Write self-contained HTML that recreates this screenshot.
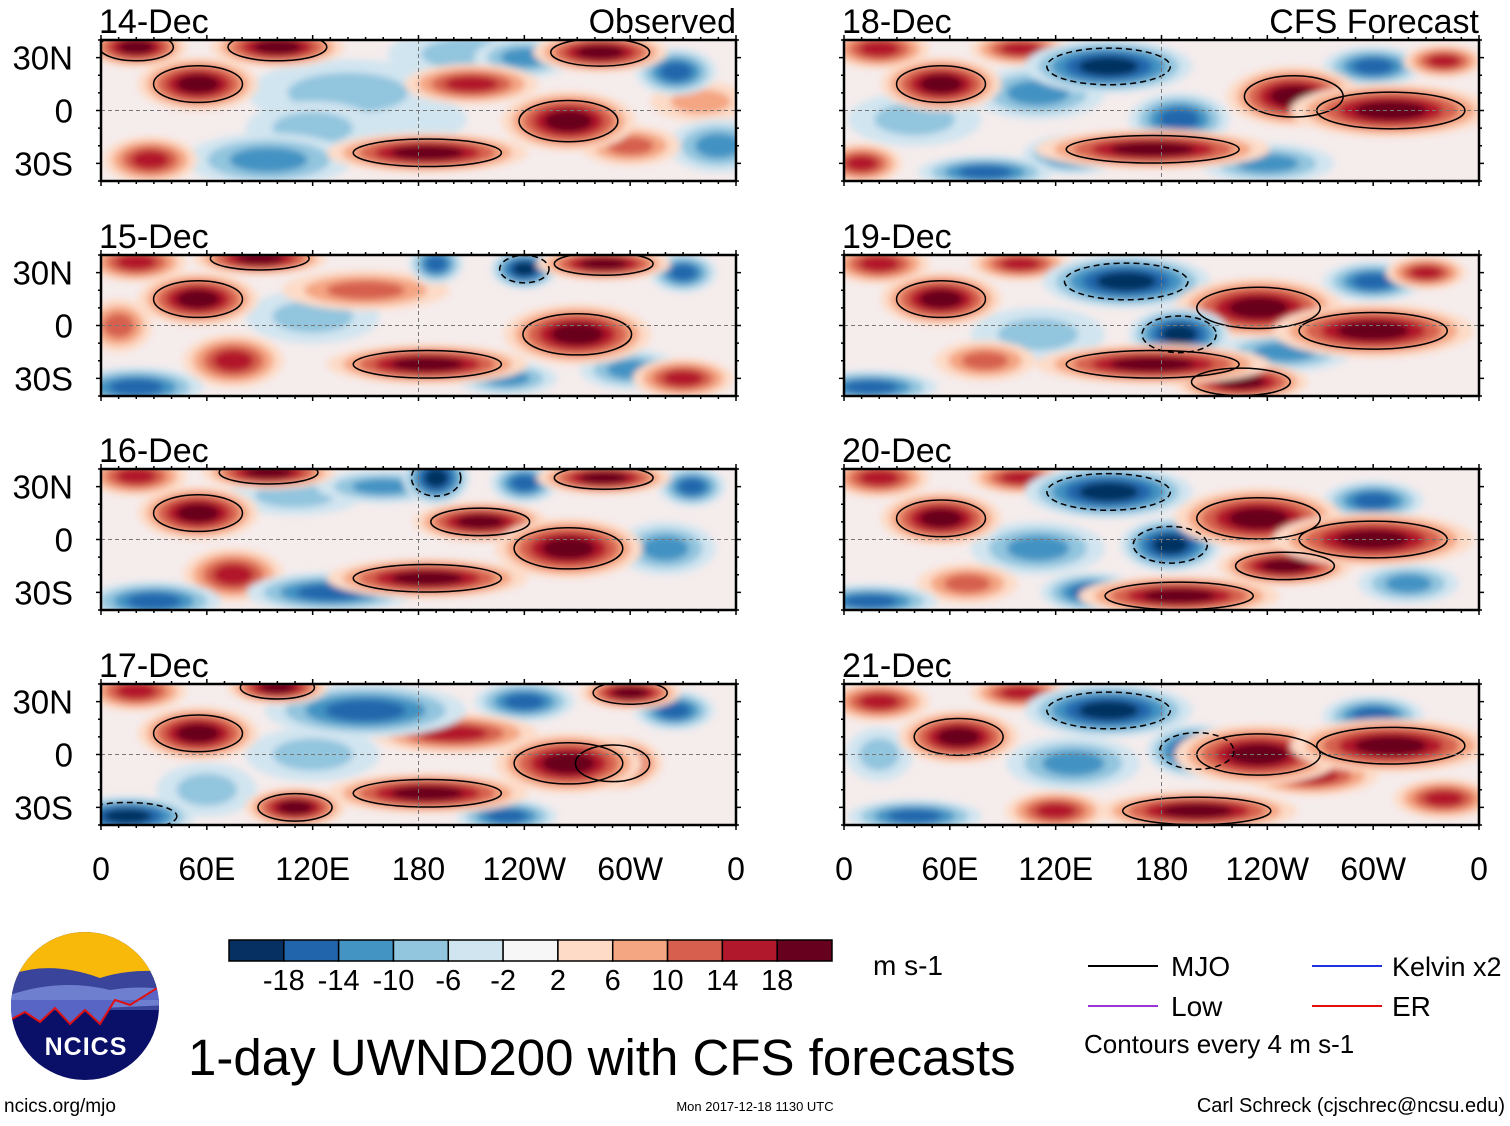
<!DOCTYPE html>
<html><head><meta charset="utf-8"><style>
html,body{margin:0;padding:0;background:#fff;}
body{width:1510px;height:1121px;position:relative;overflow:hidden;font-family:"Liberation Sans",sans-serif;}
</style></head><body>
<svg id="fig" width="1510" height="1121" viewBox="0 0 1510 1121" xmlns="http://www.w3.org/2000/svg" font-family="Liberation Sans, sans-serif">
<defs>
<filter id="blur" x="-20%" y="-50%" width="140%" height="200%"><feGaussianBlur stdDeviation="3.5"/></filter>
</defs>
<g id="panels"></g>
<g id="colorbar"></g>
<g>
<clipPath id="lc"><circle cx="85" cy="1006" r="74"/></clipPath>
<g clip-path="url(#lc)">
<rect x="0" y="930" width="170" height="160" fill="#0a1068"/>
<rect x="0" y="930" width="170" height="50" fill="#f9b90a"/>
<path d="M10 975 Q50 960 100 978 Q130 968 170 972 L170 1010 L10 1010Z" fill="#39449a"/>
<path d="M10 995 Q60 978 110 990 Q140 985 170 990 L170 1005 L10 1012Z" fill="#6f7fd0"/>
<path d="M10 1020 L25 1012 L40 1022 L55 1008 L70 1024 L85 1010 L100 1024 L115 1000 L130 1005 L170 980 L170 1000 L10 1000Z" fill="#5865c4"/>
<path d="M10 1020 L25 1012 L40 1022 L55 1008 L70 1024 L85 1010 L100 1024 L115 1000 L130 1005 L170 980" fill="none" stroke="#e01010" stroke-width="2"/>
</g>
<text x="86" y="1055" font-size="25" font-weight="bold" fill="#fff" text-anchor="middle" letter-spacing="1">NCICS</text>
</g>
<text x="4" y="1112" font-size="19">ncics.org/mjo</text>
<text x="188" y="1075" font-size="51">1-day UWND200 with CFS forecasts</text>
<text x="755" y="1111" font-size="13" text-anchor="middle">Mon 2017-12-18 1130 UTC</text>
<text x="1505" y="1112" font-size="20" text-anchor="end">Carl Schreck (cjschrec@ncsu.edu)</text>
<text x="873" y="975" font-size="28">m s-1</text>
<g>
<line x1="1088" y1="966" x2="1158" y2="966" stroke="#000" stroke-width="2"/><text x="1171" y="976" font-size="28">MJO</text>
<line x1="1088" y1="1006" x2="1158" y2="1006" stroke="#9a35d6" stroke-width="2"/><text x="1171" y="1016" font-size="28">Low</text>
<line x1="1312" y1="966" x2="1382" y2="966" stroke="#2233dd" stroke-width="2"/><text x="1392" y="976" font-size="27">Kelvin x2</text>
<line x1="1312" y1="1006" x2="1382" y2="1006" stroke="#e01010" stroke-width="2"/><text x="1392" y="1016" font-size="28">ER</text>
<text x="1084" y="1053" font-size="26">Contours every 4 m s-1</text>
</g>
</svg>
<script>
const colors=["#053061","#2166ac","#4393c3","#92c5de","#d1e5f0","#f7f7f7","#fddbc7","#f4a582","#d6604d","#b2182b","#67001f"];
const levels=[-18,-14,-10,-6,-2,2,6,10,14,18];
const dates=["14-Dec","15-Dec","16-Dec","17-Dec","18-Dec","19-Dec","20-Dec","21-Dec"];
const lonTicks=["0","60E","120E","180","120W","60W","0"];
const latTicks=["30N","0","30S"];
// blobs: [lon, lat, value m/s, halfwidth deg, halfheight deg]
const obs14=[[20,36,20,15,6],[100,36,22,20,6],[55,15,18,18,8],[185,-24,22,30,6],[265,-6,22,20,9],[283,33,20,20,6],[95,-28,-12,25,8],[210,32,-6,25,8],[28,-28,16,14,7],[210,15,14,20,6],[326,22,-14,12,7],[140,10,-6,30,10],[240,30,-10,15,6],[350,-20,-10,15,8],[160,-5,-4,25,8],[300,-20,10,15,6],[120,-10,-8,20,8],[340,5,8,15,6]];
const obs15=[[20,36,16,15,6],[90,38,22,20,5],[55,15,22,18,8],[185,-22,22,30,6],[270,-5,20,22,9],[285,35,20,20,5],[20,-35,-16,20,6],[190,35,-16,8,6],[240,32,-18,10,6],[330,30,-14,10,6],[330,-30,14,15,6],[120,5,-6,20,8],[150,20,10,25,6],[300,-25,-10,15,6],[75,-20,14,15,8],[230,-30,-12,15,5],[10,0,10,10,8]];
const obs16=[[20,36,16,15,6],[95,38,20,20,5],[55,15,22,18,8],[185,-22,22,30,6],[265,-5,22,22,9],[285,35,20,20,5],[30,-35,-16,20,6],[190,35,-18,10,8],[240,32,-16,10,6],[335,30,-14,10,6],[130,-30,-16,25,6],[215,10,18,20,6],[75,-20,14,15,8],[110,25,-8,20,6],[320,-5,-10,15,8],[160,30,-10,20,5]];
const obs17=[[20,36,16,15,6],[100,38,18,15,5],[55,12,22,18,8],[185,-22,20,30,6],[265,-5,22,22,9],[300,35,22,15,5],[15,-35,-18,20,6],[150,25,-16,30,8],[240,30,-14,15,6],[325,25,-14,12,6],[110,-30,20,15,6],[200,12,14,25,6],[290,-5,18,15,8],[60,-20,-8,15,8],[230,-35,-14,15,5],[120,0,-8,20,8]];
const fc18=[[20,35,14,15,6],[55,15,22,18,8],[100,35,16,15,5],[175,-22,22,35,6],[255,8,20,20,9],[310,0,22,30,8],[150,25,-18,25,8],[190,-5,-16,15,8],[300,25,-14,15,6],[80,-35,-16,20,5],[40,-5,-8,20,8],[130,-25,-14,15,6],[240,-30,-12,20,6],[340,28,16,12,5],[110,10,-10,20,8],[10,-30,14,12,6]];
const fc19=[[20,35,14,15,6],[55,15,22,18,8],[100,35,16,15,5],[175,-22,22,35,6],[235,10,20,25,9],[300,-3,22,30,8],[160,25,-18,25,8],[190,-5,-20,15,8],[300,25,-14,15,6],[15,-35,-16,20,5],[110,-5,-8,20,8],[225,-32,20,20,6],[250,-15,-10,20,6],[330,30,14,12,5],[80,-20,12,15,6]];
const fc20=[[20,35,14,15,6],[55,12,20,18,8],[100,35,16,15,5],[190,-32,22,30,6],[235,12,20,25,9],[300,0,22,30,8],[150,27,-20,25,8],[185,-3,-18,15,8],[300,22,-14,15,6],[15,-35,-16,20,5],[110,-5,-10,20,8],[250,-15,18,20,6],[140,-30,-16,15,6],[320,-25,-10,15,6],[70,-25,12,15,6]];
const fc21=[[20,30,14,15,6],[65,10,18,18,8],[100,35,16,15,5],[200,-32,22,30,6],[235,0,20,25,9],[310,5,20,30,8],[150,25,-20,25,8],[200,2,-18,15,8],[300,22,-14,15,6],[40,-35,-14,20,5],[130,-5,-10,20,8],[265,-12,16,20,6],[120,-32,16,15,6],[340,-25,14,15,6],[20,0,-8,10,8]];
const panelBlobs=[obs14,obs15,obs16,obs17,fc18,fc19,fc20,fc21];

const NS="http://www.w3.org/2000/svg";
function mk(tag,attrs,parent){const e=document.createElementNS(NS,tag);for(const k in attrs)e.setAttribute(k,attrs[k]);if(parent)parent.appendChild(e);return e;}
function colorFor(v){let i=0;while(i<levels.length&&v>=levels[i])i++;return colors[i];}
const PW=635,PH=141,colX=[101,844],rowY=[40,255,469,684],SC=1.9;
const panels=document.getElementById('panels');
panelBlobs.forEach((blobs,p)=>{
  const x0=colX[Math.floor(p/4)],y0=rowY[p%4];
  const xs=lon=>x0+lon/360*PW, ys=lat=>y0+(40-lat)/80*PH;
  const g=mk('g',{},panels);
  
  
  mk('clipPath',{id:'cp'+p},g).appendChild(mk('rect',{x:x0,y:y0,width:PW,height:PH}));
  const inner=mk('g',{'clip-path':'url(#cp'+p+')'},g);
  mk('rect',{x:x0,y:y0,width:PW,height:PH,fill:'#f5ecec'},inner);
  const fg=mk('g',{filter:'url(#blur)'},inner);
  blobs.slice().sort((a,b)=>Math.abs(a[2])-Math.abs(b[2])).forEach(b=>{
    const steps=Math.min(5,Math.ceil((Math.abs(b[2])-1)/4));
    for(let s=0;s<steps;s++){
      const f=1-0.8*s/steps, v=Math.sign(b[2])*(3+4*s);
      const e=mk('ellipse',{cx:xs(b[0]),cy:ys(b[1]),rx:b[3]/360*PW*f*SC,ry:b[4]/80*PH*f*SC,fill:colorFor(v)},fg);
      
      
    }
  });
  blobs.filter(b=>Math.abs(b[2])>=18).forEach(b=>{
    const c=mk('ellipse',{cx:xs(b[0]),cy:ys(b[1]),rx:b[3]/360*PW*1.4,ry:b[4]/80*PH*1.3,fill:'none',stroke:'#000','stroke-width':1.5,'stroke-dasharray':b[2]<0?'6 4':'none'},inner);
    
    
  });
  mk('line',{x1:x0,y1:ys(0),x2:x0+PW,y2:ys(0),stroke:'#777','stroke-dasharray':'4 3','stroke-width':1},inner);
  mk('line',{x1:xs(180),y1:y0,x2:xs(180),y2:y0+PH,stroke:'#777','stroke-dasharray':'4 3','stroke-width':1},inner);
  mk('rect',{x:x0,y:y0,width:PW,height:PH,fill:'none',stroke:'#000','stroke-width':2.5},g);
  for(let l=0;l<=360;l+=10){const big=l%60==0;
    mk('line',{x1:xs(l),y1:y0,x2:xs(l),y2:y0-(big?5:3),stroke:'#000','stroke-width':1.5},g);
    mk('line',{x1:xs(l),y1:y0+PH,x2:xs(l),y2:y0+PH+(big?5:3),stroke:'#000','stroke-width':1.5},g);}
  for(let la=-40;la<=40;la+=10){const big=la%30==0;
    mk('line',{x1:x0,y1:ys(la),x2:x0-(big?5:3),y2:ys(la),stroke:'#000','stroke-width':1.5},g);
    mk('line',{x1:x0+PW,y1:ys(la),x2:x0+PW+(big?5:3),y2:ys(la),stroke:'#000','stroke-width':1.5},g);}
  const t=mk('text',{x:x0-2,y:y0-7,'font-size':34},g);t.textContent=dates[p];
  
  
  if(p%4==0){const h=mk('text',{x:x0+PW,y:y0-7,'font-size':34,'text-anchor':'end'},g);h.textContent=p<4?'Observed':'CFS Forecast';
    
    }
  if(p<4){[30,0,-30].forEach((la,i)=>{const lt=mk('text',{x:73,y:ys(la)+12,'font-size':33,'text-anchor':'end'},g);lt.textContent=latTicks[i];
    
    });}
  if(p%4==3){lonTicks.forEach((s,i)=>{const tx=mk('text',{x:xs(i*60),y:880,'font-size':32,'text-anchor':'middle'},g);tx.textContent=s;
    
    });}
});
const cb=document.getElementById('colorbar');
const cbx=229,cbw=603/11;
colors.forEach((c,i)=>{const r=mk('rect',{x:cbx+i*cbw,y:940,width:cbw,height:21,fill:c,stroke:'#000','stroke-width':1.5},cb);
  
  });
levels.forEach((v,i)=>{const t=mk('text',{x:cbx+(i+1)*cbw,y:990,'font-size':29,'text-anchor':'middle'},cb);t.textContent=v;
  
  });
</script>
</body></html>
